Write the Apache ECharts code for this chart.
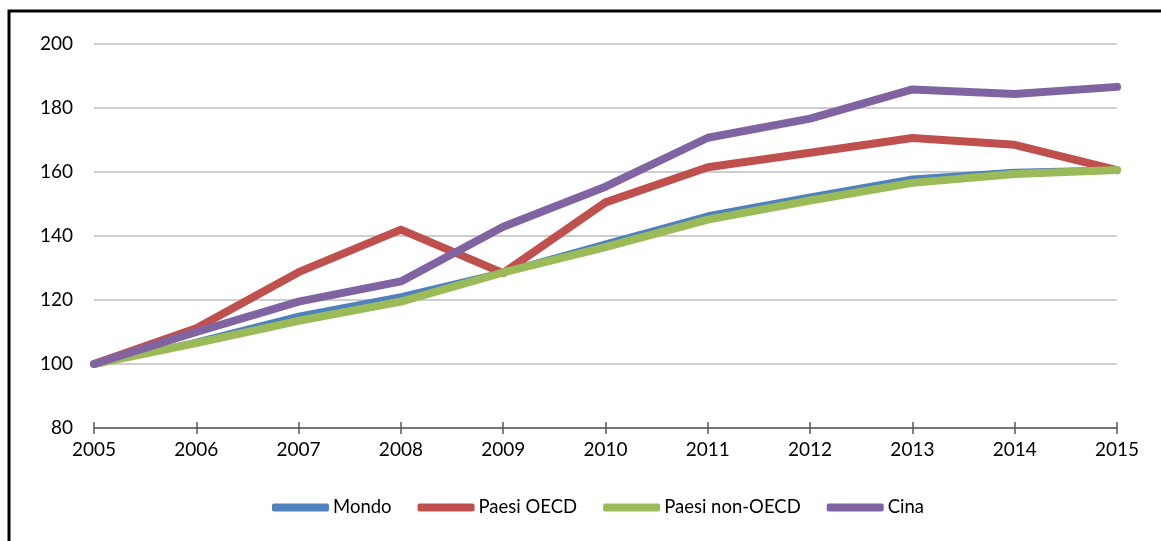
<!DOCTYPE html>
<html>
<head>
<meta charset="utf-8">
<script src="https://cdn.jsdelivr.net/npm/echarts@6/dist/echarts.min.js"></script>
<style>
  html, body { margin: 0; padding: 0; background: #fff; }
  #chart { width: 1161px; height: 541px; }
</style>
</head>
<body>
<div id="chart"></div>
<script>
// Indice 2005 = 100
const years = ['2005', '2006', '2007', '2008', '2009', '2010', '2011', '2012', '2013', '2014', '2015'];
const mondo = [100, 107.2, 115.3, 121.4, 129, 137.9, 146.7, 152.6, 158.2, 160.3, 161];
const paesiOECD = [100, 111.2, 128.7, 142, 128.4, 150.5, 161.5, 166, 170.6, 168.5, 160.6];
const paesiNonOECD = [100, 106.5, 113.5, 119.5, 128.6, 136.5, 145.1, 151.1, 156.6, 159.4, 160.6];
const cina = [100, 110, 119.5, 125.8, 142.9, 155.4, 170.7, 176.7, 185.8, 184.4, 186.6];
const yTicks = { min: 80, max: 200, step: 20 };

const FONT = 'Lato';
const colors = ['#4F81BD', '#C0504D', '#9BBB59', '#8064A2'];

function lineSeries(name, data, color, width) {
  return {
    name: name,
    type: 'line',
    data: data,
    symbol: 'none',
    smooth: false,
    lineStyle: { color: color, width: width, cap: 'round', join: 'round' },
    itemStyle: { color: color },
    emphasis: { disabled: true }
  };
}

const chart = echarts.init(document.getElementById('chart'), null, { renderer: 'canvas' });
chart.setOption({
  animation: false,
  backgroundColor: '#ffffff',
  textStyle: { fontFamily: FONT, color: '#000' },
  grid: { left: 94, right: 44, top: 44, bottom: 113, containLabel: false },
  legend: {
    bottom: 19,
    left: 267,
    icon: 'roundRect',
    itemWidth: 57,
    itemHeight: 8,
    itemGap: 26,
    textStyle: { fontFamily: FONT, fontSize: 18.5, color: '#000', padding: [0, 0, 0, -1] },
    data: ['Mondo', 'Paesi OECD', 'Paesi non-OECD', 'Cina']
  },
  xAxis: [
    {
      type: 'category',
      data: years,
      boundaryGap: false,
      axisLine: { lineStyle: { color: '#595959', width: 1.5 } },
      axisTick: { show: true, length: 6, lineStyle: { color: '#595959', width: 1.5 } },
      axisLabel: { fontFamily: FONT, fontSize: 19, color: '#000', margin: 12 },
      splitLine: { show: false }
    },
    {
      type: 'category',
      data: years,
      boundaryGap: false,
      position: 'bottom',
      axisLine: { show: false },
      axisTick: { show: true, inside: true, length: 6, lineStyle: { color: '#595959', width: 1.5 } },
      axisLabel: { show: false },
      splitLine: { show: false }
    }
  ],
  yAxis: {
    type: 'value',
    min: yTicks.min,
    max: yTicks.max,
    interval: yTicks.step,
    axisLine: { show: false },
    axisTick: { show: false },
    axisLabel: { fontFamily: FONT, fontSize: 19, color: '#000', margin: 21 },
    splitLine: { lineStyle: { color: '#BEBEBE', width: 1.5 } }
  },
  series: [
    lineSeries('Mondo', mondo, colors[0], 4.5),
    lineSeries('Paesi OECD', paesiOECD, colors[1], 8),
    lineSeries('Paesi non-OECD', paesiNonOECD, colors[2], 8),
    lineSeries('Cina', cina, colors[3], 8)
  ],
  graphic: [
    {
      type: 'rect',
      silent: true,
      z: 100,
      shape: { x: 9, y: 11, width: 1300, height: 700 },
      style: { fill: 'none', stroke: '#000', lineWidth: 3 }
    }
  ]
});
</script>
</body>
</html>
